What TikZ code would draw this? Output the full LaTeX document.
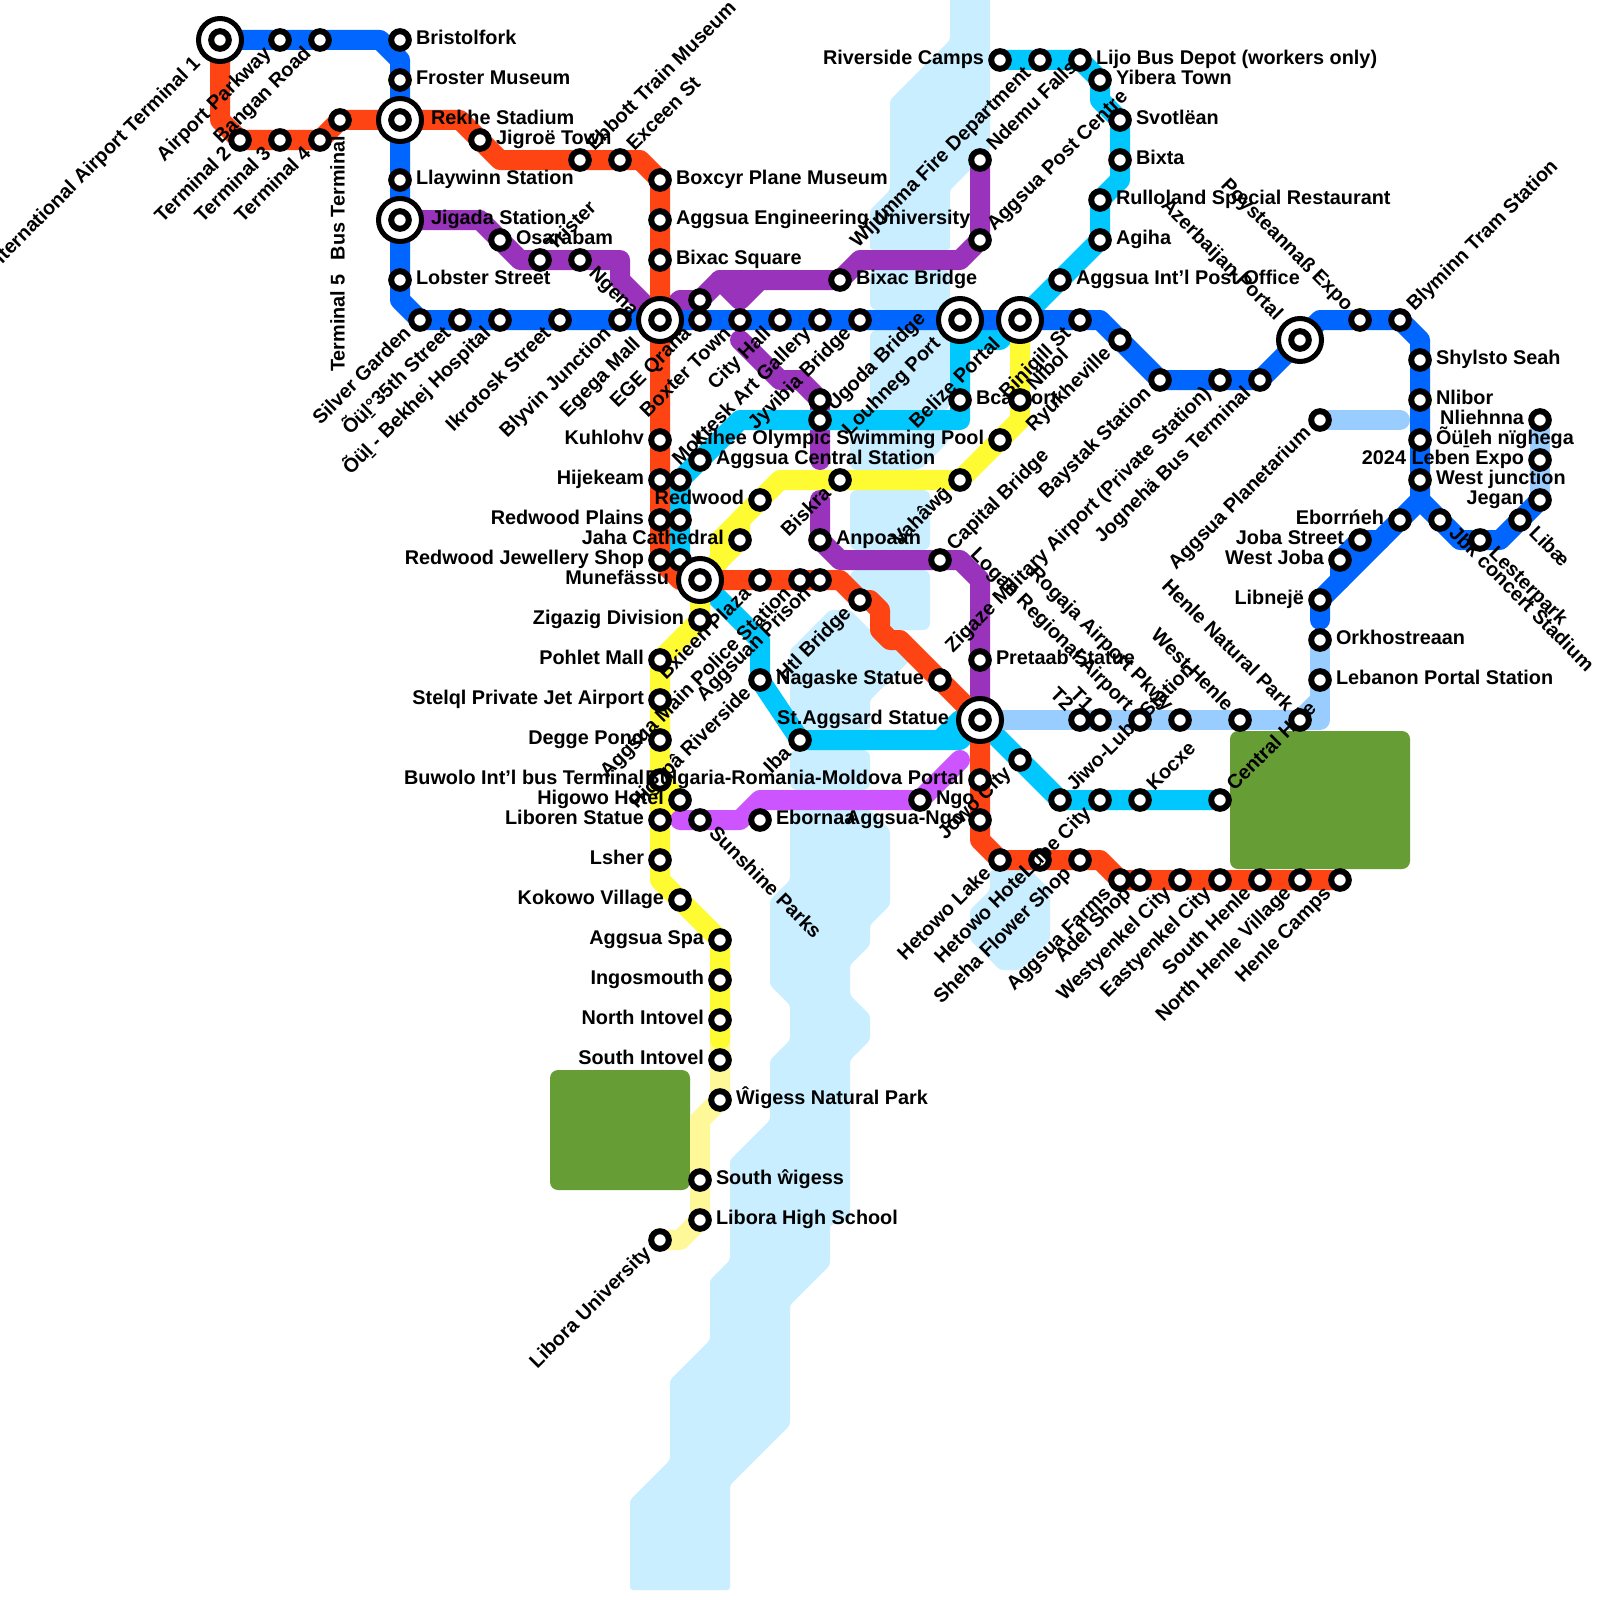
\documentclass[tikz,border=0pt]{standalone}
\usepackage{fontspec}
\setmainfont{Liberation Sans}
\usetikzlibrary{calc}
\definecolor{cblue}{HTML}{0066FF}
\definecolor{cred}{HTML}{FF4413}
\definecolor{cpurple}{HTML}{9933BB}
\definecolor{ccyan}{HTML}{00C8FF}
\definecolor{cyellow}{HTML}{FFFB33}
\definecolor{cpale}{HTML}{FFF899}
\definecolor{clight}{HTML}{99CCFF}
\definecolor{cviolet}{HTML}{CC55FF}
\definecolor{criver}{HTML}{C8EEFF}
\definecolor{cpark}{HTML}{669E35}
\tikzset{
  metro/.style={line width=10pt,line join=round,line cap=round},
  stn/.style={circle,draw=black,fill=white,line width=3pt,minimum size=8.8pt,inner sep=0pt,outer sep=0pt},
  hubring/.style={circle,draw=black,fill=white,line width=2.5pt,minimum size=21.5pt,inner sep=0pt,outer sep=0pt},
  lbl/.style={font=\bfseries\fontsize{9.92}{12}\selectfont,inner sep=0pt,outer sep=0pt,text=black},
  water/.style={fill=criver,rounded corners=1.5pt},
  block/.style={fill=criver,rounded corners=3.5pt},
  park/.style={fill=cpark,rounded corners=4pt}
}
\newcommand{\C}[3]{\coordinate (#1) at (#2,#3);}
\newcommand{\lE}[3][16]{\node[lbl,anchor=base west] (l-#2) at ($(#2)+(#1,4.5)$) {#3};}
\newcommand{\lW}[3][16]{\node[lbl,anchor=base east] (l-#2) at ($(#2)+(-#1,4.5)$) {#3};}
\newcommand{\lNE}[3][16]{\path (#2) ++(-45:#1) ++(45:4.5) node[lbl,rotate=45,anchor=base west] (l-#2) {#3};}
\newcommand{\lSW}[3][16]{\path (#2) ++(135:#1) ++(45:4.5) node[lbl,rotate=45,anchor=base east] (l-#2) {#3};}
\newcommand{\lSE}[3][16]{\path (#2) ++(45:#1) ++(135:4.5) node[lbl,rotate=-45,anchor=base west] (l-#2) {#3};}
\newcommand{\lNW}[3][16]{\path (#2) ++(225:#1) ++(135:4.5) node[lbl,rotate=-45,anchor=base east] (l-#2) {#3};}
\newcommand{\stns}[1]{\foreach \n in {#1} {\node[stn] (n-\n) at (\n) {};}}
\newcommand{\hubs}[1]{\foreach \n in {#1} {\node[hubring] (o-\n) at (\n) {}; \node[stn] (n-\n) at (\n) {};}}
\begin{document}
\begin{tikzpicture}[x=0.5pt,y=-0.5pt]
\useasboundingbox (0,0) rectangle (1600,1600);
\clip (0,0) rectangle (1600,1600);
\fill[white] (0,0) rectangle (1600,1600);
% river
\fill[water] (950,-20)--(990,-20)--(990,150)--(950,190)--(950,250)--(870,250)--(870,210)--(890,190)--(890,100)--(950,40)--cycle;
\fill[block] (870,270) rectangle (950,310);
\fill[block] (870,330) rectangle (950,410);
\fill[block] (850,430)--(950,430)--(950,440)--(920,470)--(850,470)--cycle;
\fill[block] (850,490) rectangle (930,550);
\fill[block] (850,570)--(930,570)--(930,630)--(890,630)--(870,610)--(850,610)--cycle;
\fill[water] (790,650)--(830,610)--(850,610)--(890,650)--(910,650)--(910,660)--(870,700)--(870,730)--(790,730)--cycle;
\fill[block] (790,750) rectangle (870,790);
\fill[water] (790,810)--(870,810)--(890,830)--(890,905)--(870,925)--(870,945)--(850,965)--(850,995)--(870,1015)--(870,1040)--(850,1060)--(850,1220)--(830,1225)--(830,1265)--(790,1305)--(790,1425)--(730,1485)--(730,1590)--(630,1590)--(630,1500)--(670,1460)--(670,1380)--(710,1340)--(710,1280)--(730,1260)--(730,1160)--(770,1120)--(770,1060)--(790,1040)--(790,1005)--(770,985)--(770,900)--(790,880)--cycle;
\fill[water] (990,870)--(1030,870)--(1050,890)--(1050,940)--(1020,970)--(1000,970)--(970,940)--(970,910)--(990,890)--cycle;
% parks
\fill[park] (1230,731) rectangle (1410,869);
\fill[park] (550,1070) rectangle (690,1190);
% points: blue line
\C{hA}{220}{40}\C{ap}{280}{40}\C{bg}{320}{40}\C{br}{400}{40}\C{fr}{400}{80}\C{hR}{400}{120}\C{ll}{400}{180}\C{hJ}{400}{220}\C{lo}{400}{280}
\C{sg}{420}{320}\C{oa}{460}{320}\C{ob}{500}{320}\C{ik}{560}{320}\C{bj}{620}{320}\C{hE}{660}{320}\C{eq}{700}{320}\C{bt}{740}{320}\C{ch}{780}{320}\C{mk}{820}{320}\C{jy}{860}{320}
\C{hL}{960}{320}\C{hB}{1020}{320}\C{bi}{1080}{320}\C{ry}{1120}{340}\C{ba}{1160}{380}\C{mi}{1220}{380}\C{jo}{1260}{380}\C{hZ}{1300}{340}\C{po}{1360}{320}\C{bl}{1400}{320}
\C{sh}{1420}{360}\C{nl}{1420}{400}\C{ol}{1420}{440}\C{wj}{1420}{480}\C{eb}{1400}{520}\C{js}{1360}{540}\C{wb}{1340}{560}\C{lb}{1320}{600}\C{jc}{1440}{520}\C{le}{1480}{540}\C{li}{1520}{520}
\C{aa}{380}{40}\C{ab}{400}{60}\C{ac}{400}{300}\C{ad}{1100}{320}\C{ae}{1320}{320}\C{af}{1420}{340}\C{ag}{1420}{500}\C{ah}{1320}{620}\C{ai}{1380}{540}\C{aj}{1340}{580}\C{ak}{1460}{540}\C{am}{1500}{540}
% points: red line
\C{ta}{240}{140}\C{tb}{280}{140}\C{tc}{320}{140}\C{td}{340}{120}\C{jg}{480}{140}\C{ebb}{580}{160}\C{ex}{620}{160}\C{bx}{660}{180}\C{en}{660}{220}\C{bs}{660}{260}
\C{ku}{660}{440}\C{hi}{660}{480}\C{rd}{660}{520}\C{rj}{660}{560}\C{hM}{700}{580}\C{vm}{760}{580}\C{pl}{800}{580}\C{apr}{820}{580}\C{ht}{860}{600}\C{na}{940}{680}\C{hS}{980}{720}
\C{bu}{980}{780}\C{ng}{980}{820}\C{hl}{1000}{860}\C{hh}{1040}{860}\C{sf}{1080}{860}\C{fa}{1120}{880}\C{da}{1140}{880}\C{wy}{1180}{880}\C{ey}{1220}{880}\C{so}{1260}{880}\C{nh}{1300}{880}\C{hc}{1340}{880}
\C{ra}{220}{120}\C{rb}{460}{120}\C{rc}{500}{160}\C{re}{640}{160}\C{rf}{680}{580}\C{rg}{840}{580}\C{rh}{870}{600}\C{ri}{880}{610}\C{rk}{880}{630}\C{rm}{890}{640}\C{rn}{900}{640}\C{ro}{980}{840}\C{rq}{1100}{860}
% points: purple line
\C{os}{500}{240}\C{tr}{540}{260}\C{ne}{580}{260}\C{pts}{700}{300}\C{bb}{840}{280}\C{ps}{980}{240}\C{nd}{980}{160}\C{puq}{820}{400}\C{an}{820}{540}\C{ca}{940}{560}\C{pr}{980}{660}
\C{pa}{480}{220}\C{pb}{520}{260}\C{pc}{620}{260}\C{pd}{620}{280}\C{pe}{680}{300}\C{pf}{720}{280}\C{pg}{740}{300}\C{ph}{760}{280}\C{pi}{860}{260}\C{pk}{960}{260}\C{pm}{740}{340}\C{pn}{780}{380}\C{po2}{800}{380}\C{pq}{820}{460}\C{pt}{820}{500}\C{pu}{840}{560}\C{pv}{960}{560}\C{pw}{980}{580}
% points: cyan line
\C{rv}{1000}{60}\C{wf}{1040}{60}\C{lj}{1080}{60}\C{yb}{1100}{80}\C{sv}{1120}{120}\C{bxt}{1120}{160}\C{ru}{1100}{200}\C{agi}{1100}{240}\C{ip}{1060}{280}\C{bc}{960}{400}\C{ug}{820}{420}
\C{cen}{700}{460}\C{cua}{680}{480}\C{cub}{680}{520}\C{cuc}{680}{560}\C{hgp}{760}{680}\C{ib}{800}{740}\C{jw}{1020}{760}\C{jl}{1060}{800}\C{lc}{1100}{800}\C{kc}{1140}{800}\C{cn}{1220}{800}
\C{ca1}{1100}{100}\C{ca2}{1120}{180}\C{ca3}{1000}{340}\C{ca4}{960}{340}\C{ca5}{960}{420}\C{ca6}{740}{420}\C{ca7}{760}{640}\C{ca8}{960}{740}\C{ca9}{940}{740}\C{ca0}{960}{720}
% points: yellow line
\C{ni}{1020}{400}\C{ly}{1000}{440}\C{va}{960}{480}\C{bk}{840}{480}\C{rw}{760}{500}\C{ja}{740}{540}\C{zg}{700}{620}\C{pom}{660}{660}\C{sj}{660}{700}\C{dg}{660}{740}\C{bw}{660}{780}\C{hw}{680}{800}\C{lv}{660}{820}\C{lr}{660}{860}\C{kk}{680}{900}\C{sa}{720}{940}\C{ig}{720}{980}\C{ni2}{720}{1020}
\C{si}{720}{1060}\C{wn}{720}{1100}\C{sw}{700}{1180}\C{lh}{700}{1220}\C{lu}{660}{1240}
\C{ya}{1020}{420}\C{yb2}{780}{480}\C{yc}{720}{540}\C{yd}{720}{560}\C{ye}{740}{520}\C{yf}{660}{880}\C{yg}{720}{1040}\C{yh}{700}{1120}\C{yi}{680}{1240}
% points: light blue line
\C{tt}{1080}{720}\C{to}{1100}{720}\C{lgn}{1140}{720}\C{rgj}{1180}{720}\C{wh}{1240}{720}\C{hn}{1300}{720}\C{lp}{1320}{680}\C{ok}{1320}{640}\C{pla}{1320}{420}\C{nh2}{1540}{420}\C{lx}{1540}{460}\C{jn}{1540}{500}
\C{la}{1320}{720}\C{lc2}{1320}{700}\C{ld}{1400}{420}
% points: violet line
\C{sn}{700}{820}\C{eo}{760}{820}\C{nn}{920}{800}\C{va0}{680}{820}\C{va1}{740}{820}\C{va2}{760}{800}\C{va3}{960}{760}
% ALL LINES
\draw[metro,cpurple] (hJ)--(pa)--(pb)--(pc)--(pd)--(hE);
\draw[metro,cpurple] (hE)--(pe)--(pts)--(pf)--(pg)--(ph)--(bb)--(pi)--(pk)--(ps)--(nd);
\draw[metro,cpurple] (pf)--(ph);
\draw[metro,cpurple] (pm)--(pn)--(po2)--(puq)--(pq);
\draw[metro,cpurple] (pt)--(an)--(pu)--(pv)--(pw)--(hS);
\draw[metro,ccyan] (rv)--(lj)--(yb)--(ca1)--(sv)--(ca2)--(ru)--(agi)--(hB)--(ca3)--(ca4)--(ca5)--(ca6)--(cua)--(cuc)--(hM)--(ca7)--(hgp)--(ib)--(ca8)--(hS)--(jl)--(cn);
\draw[metro,ccyan] (ca9)--(ca0)--(hS);
\draw[metro,cpale] (yg)--(wn)--(yh)--(lh)--(yi)--(lu);
\draw[metro,cyellow] (hB)--(ya)--(va)--(yb2)--(yc)--(yd)--(hM)--(zg)--(pom)--(yf)--(sa)--(yg);
\draw[metro,cyellow] (rw)--(ye)--(ja)--(hM);
\draw[metro,cyellow] (bw)--(hw)--(lv);
\draw[metro,cred] (hA)--(ra)--(ta)--(tc)--(td)--(rb)--(rc)--(re)--(bx)--(rj)--(rf)--(rg)--(ht)--(rh)--(ri)--(rk)--(rm)--(rn)--(hS)--(ro)--(hl)--(rq)--(fa)--(hc);
\draw[metro,cblue] (hA)--(aa)--(ab)--(ac)--(sg)--(ad)--(ba)--(jo)--(ae)--(bl)--(af)--(ag)--(lb)--(ah);
\draw[metro,cblue] (ai)--(js)--(wb)--(aj);
\draw[metro,cblue] (ag)--(ak)--(am)--(jn);
\draw[metro,clight] (hS)--(la)--(ok);
\draw[metro,clight] (hn)--(lc2);
\draw[metro,clight] (pla)--(ld);
\draw[metro,clight] (nh2)--(jn);
\draw[metro,cviolet] (va0)--(va1)--(va2)--(nn)--(va3);
% PURPLE labels, stations
\lE[31]{hJ}{Jigada Station}
\lE{os}{Osarabam}\lNE{tr}{Trister}\lSE{ne}{Ngena}\lE{bb}{Bixac Bridge}\lNE{ps}{Aggsua Post Centre}\lNE{nd}{Ndemu Falls}
\lE{an}{Anpoaan}\lNE{ca}{Capital Bridge}\lE{pr}{Pretaab Statue}
\stns{os,tr,ne,pts,bb,ps,nd,puq,an,ca,pr}
% BLUE labels, stations
\lSW[31]{hA}{International Airport Terminal 1}\lSW{ap}{Airport Parkway}\lSW{bg}{Bangan Road}\lE{br}{Bristolfork}\lE{fr}{Froster Museum}\lE{ll}{Llaywinn Station}\lE{lo}{Lobster Street}
\lSW{sg}{Silver Garden}\lSW{oa}{Õüḻ°35th Street}\lSW{ob}{Õüḻ - Bekhej Hospital}\lSW{ik}{Ikrotosk Street}\lSW{bj}{Blyvin Junction}\lSW[31]{hE}{Egega Mall}\lSW{eq}{EGE Qrana}\lSW{bt}{Boxter Town}\lSW{ch}{City Hall}\lSW{mk}{Moktesk Art Gallery}\lSW{jy}{Jyvibia Bridge}
\lSW[31]{hL}{Louhneg Port}\lSW[31]{hB}{Belize Portal}\lSW{bi}{Binigill St}\lSW{ry}{Ryukheville}\lSW{ba}{Baystak Station}\lSW{mi}{Zigaze Military Airport (Private Station)}\lSW{jo}{Jognehä Bus Terminal}\lNW[31]{hZ}{Azerbaijan Portal}\lNW{po}{Poysteannaß Expo}\lNE{bl}{Blyminn Tram Station}
\lE{sh}{Shylsto Seah}\lE{nl}{Nlibor}\lE{ol}{Õüḻeh nïghega}\lE{wj}{West junction}\lW{eb}{Eborrńeh}\lW{js}{Joba Street}\lW{wb}{West Joba}\lW{lb}{Libnejë}\lSE{jc}{Jbk concert Stadium}\lSE{le}{Lesterpark}\lSE{li}{Libæ}
\stns{ap,bg,br,fr,ll,lo,sg,oa,ob,ik,bj,eq,bt,ch,mk,jy,bi,ry,ba,mi,jo,po,bl,sh,nl,ol,wj,eb,js,wb,lb,jc,le,li}
% RED labels, stations
\lSW{ta}{Terminal 2}\lSW{tb}{Terminal 3}\lSW{tc}{Terminal 4}
\node[lbl,rotate=90,anchor=base east] (l-td) at ($(td)+(4.5,16)$) {Terminal 5\hspace{0.7em}Bus Terminal};
\lE[31]{hR}{Rekhe Stadium}\lE{jg}{Jigroë Town}\lNE{ebb}{Ebbott Train Museum}\lNE{ex}{Exceen St}\lE{bx}{Boxcyr Plane Museum}\lE{en}{Aggsua Engineering University}\lE{bs}{Bixac Square}
\lW{ku}{Kuhlohv}\lW{hi}{Hijekeam}\lW{rd}{Redwood Plains}\lW{rj}{Redwood Jewellery Shop}\lW[31]{hM}{Munefässu}\lSW{vm}{Bxieen Plaza}\lSW{pl}{Aggsua Main Police Station}\lSW{apr}{Aggsuan Prison}\lSW{ht}{Htl Bridge}\lW{na}{Nagaske Statue}
\lW{ng}{Aggsua-Ngo}\lSW{hl}{Hetowo Lake}\lSW{hh}{Hetowo Hotel}\lSW{sf}{Sheha Flower Shop}\lSW{fa}{Aggsua Farms}\lSW{da}{Adel Shop}\lSW{wy}{Westyenkel City}\lSW{ey}{Eastyenkel City}\lSW{so}{South Henle}\lSW{nh}{North Henle Village}\lSW{hc}{Henle Camps}
\stns{ta,tb,tc,td,jg,ebb,ex,bx,en,bs,ku,hi,rd,rj,vm,pl,apr,ht,na,bu,ng,hl,hh,sf,fa,da,wy,ey,so,nh,hc}
% CYAN labels, stations
\lW{rv}{Riverside Camps}\lSW{wf}{Wijumma Fire Department}\lE{lj}{Lijo Bus Depot (workers only)}\lE{yb}{Yibera Town}\lE{sv}{Svotlëan}\lE{bxt}{Bixta}\lE{ru}{Rulloland Special Restaurant}\lE{agi}{Agiha}\lE{ip}{Aggsua Int’l Post Office}
\lE{bc}{Bca Port}\lNE{ug}{Ugoda Bridge}\lE{cen}{Aggsua Central Station}\lSW{hgp}{Higopâ Riverside}\lSW{ib}{Iba}\lSW{jw}{Jowo City}\lNE{jl}{Jiwo-Lube Station}\lSW{lc}{Lube City}\lNE{kc}{Kocxe}\lNE{cn}{Central Hole}
\stns{rv,wf,lj,yb,sv,bxt,ru,agi,ip,bc,ug,cen,cua,cub,cuc,hgp,ib,jw,jl,lc,kc,cn}
% YELLOW labels, stations
\lNE{ni}{Nibol}\lW{ly}{Lihee Olympic Swimming Pool}\lSW{va}{Vahâwḡ}\lSW{bk}{Biskra}\lW{rw}{Redwood}\lW{ja}{Jaha Cathedral}\lW{zg}{Zigazig Division}
\lW{pom}{Pohlet Mall}\lW{sj}{Stelql Private Jet Airport}\lW{dg}{Degge Pond}\lW{bw}{Buwolo Int’l bus Terminal}\lW{hw}{Higowo Hotel}\lW{lv}{Liboren Statue}\lW{lr}{Lsher}\lW{kk}{Kokowo Village}\lW{sa}{Aggsua Spa}\lW{ig}{Ingosmouth}\lW{ni2}{North Intovel}
\lW{si}{South Intovel}\lE{wn}{Ŵigess Natural Park}\lE{sw}{South ŵigess}\lE{lh}{Libora High School}\lSW{lu}{Libora University}
\stns{ni,ly,va,bk,rw,ja,zg,pom,sj,dg,bw,hw,lv,lr,kk,sa,ig,ni2,si,wn,sw,lh,lu}
% LIGHT BLUE labels, stations
\lW[31]{hS}{St.Aggsard Statue}\lNW{tt}{T2}\lNW{to}{T1}\lNW{lgn}{Logan Regional Airport}\lNW{rgj}{Rogaja Airport Pkwy}\lNW{wh}{West Henle}\lNW{hn}{Henle Natural Park}\lE{lp}{Lebanon Portal Station}\lE{ok}{Orkhostreaan}\lSW{pla}{Aggsua Planetarium}\lW{nh2}{Nliehnna}\lW{lx}{2024 Leben Expo}\lW{jn}{Jegan}
\stns{tt,to,lgn,rgj,wh,hn,lp,ok,pla,nh2,lx,jn}
% VIOLET labels, stations
\lW{bu}{Bulgaria-Romania-Moldova Portal}
\lSE{sn}{Sunshine Parks}\lE{eo}{Ebornaa}\lE{nn}{Ngo}
\stns{sn,eo,nn}
% HUBS
\hubs{hM,hA,hR,hJ,hE,hL,hB,hZ,hS}
\end{tikzpicture}
\end{document}
